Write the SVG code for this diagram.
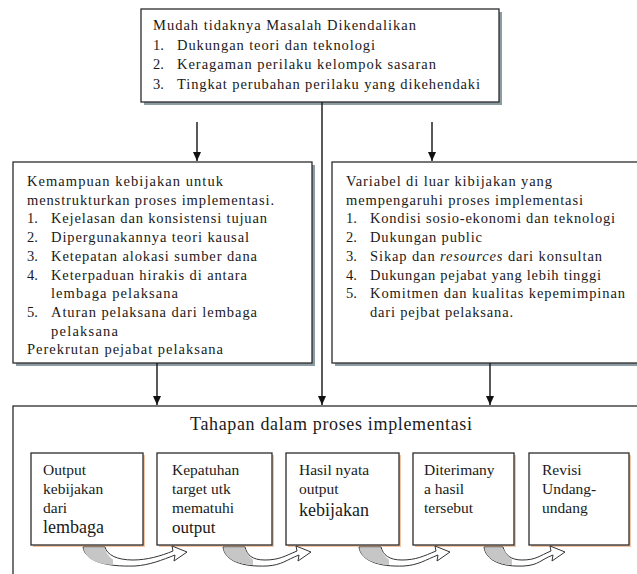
<svg xmlns="http://www.w3.org/2000/svg" width="637" height="574" viewBox="0 0 637 574">
<defs>
<style>
.t{font-family:"Liberation Serif","Times New Roman",serif;font-size:14.5px;fill:#1a1a1a}
.s{font-family:"Liberation Serif","Times New Roman",serif;font-size:15.5px;fill:#1a1a1a}
.box{fill:#fff;stroke:#2b2b2b;stroke-width:1.3}
.shd{fill:#8d9ba3}
.ishd{fill:#f2c7a5}
.ln{stroke:#222;stroke-width:1.5;fill:none}
.ca{fill:#fff;stroke:#333;stroke-width:1}
.cg{fill:#c6c6c6;stroke:none}
</style>
<marker id="ah" markerWidth="10" markerHeight="10" refX="9" refY="5" orient="auto" markerUnits="userSpaceOnUse">
<path d="M0,1 L9,5 L0,9 z" fill="#111"/>
</marker>
</defs>
<rect width="637" height="574" fill="#fff"/>

<g id="node-masalah">
<rect class="shd" x="144" y="12" width="358" height="93"/>
<rect class="box" x="141" y="9" width="358" height="93"/>
<text class="t" x="153" y="30" textLength="263" lengthAdjust="spacing">Mudah tidaknya Masalah Dikendalikan</text>
<text class="t" x="153" y="49.5">1.</text>
<text class="t" x="177" y="49.5" textLength="198" lengthAdjust="spacing">Dukungan teori  dan teknologi</text>
<text class="t" x="153" y="69">2.</text>
<text class="t" x="177" y="69" textLength="259" lengthAdjust="spacing">Keragaman perilaku kelompok sasaran</text>
<text class="t" x="153" y="88.5">3.</text>
<text class="t" x="177" y="88.5" textLength="303" lengthAdjust="spacing">Tingkat perubahan perilaku yang dikehendaki</text>
</g>

<g id="node-kemampuan">
<rect class="shd" x="16" y="165" width="299" height="201"/>
<rect class="box" x="13" y="162" width="299" height="201"/>
<text class="t" x="27" y="186" textLength="196" lengthAdjust="spacing">Kemampuan kebijakan untuk</text>
<text class="t" x="27" y="204.7" textLength="247" lengthAdjust="spacing">menstrukturkan proses implementasi.</text>
<text class="t" x="27" y="223.4">1.</text>
<text class="t" x="51" y="223.4" textLength="216" lengthAdjust="spacing">Kejelasan dan konsistensi tujuan</text>
<text class="t" x="27" y="242.1">2.</text>
<text class="t" x="51" y="242.1" textLength="198" lengthAdjust="spacing">Dipergunakannya teori kausal</text>
<text class="t" x="27" y="260.8">3.</text>
<text class="t" x="51" y="260.8" textLength="206" lengthAdjust="spacing">Ketepatan alokasi sumber dana</text>
<text class="t" x="27" y="279.5">4.</text>
<text class="t" x="51" y="279.5" textLength="196" lengthAdjust="spacing">Keterpaduan hirakis di antara</text>
<text class="t" x="51" y="298.2" textLength="127" lengthAdjust="spacing">lembaga pelaksana</text>
<text class="t" x="27" y="316.9">5.</text>
<text class="t" x="51" y="316.9" textLength="206" lengthAdjust="spacing">Aturan pelaksana dari lembaga</text>
<text class="t" x="51" y="335.6" textLength="67" lengthAdjust="spacing">pelaksana</text>
<text class="t" x="27" y="354.3" textLength="196" lengthAdjust="spacing">Perekrutan pejabat pelaksana</text>
</g>

<g id="node-variabel">
<rect class="shd" x="335" y="165" width="310" height="201"/>
<rect class="box" x="332" y="162" width="310" height="201"/>
<text class="t" x="346" y="186" textLength="206" lengthAdjust="spacing">Variabel di luar kibijakan yang</text>
<text class="t" x="346" y="204.7" textLength="237" lengthAdjust="spacing">mempengaruhi proses implementasi</text>
<text class="t" x="346" y="223.4">1.</text>
<text class="t" x="370" y="223.4" textLength="245" lengthAdjust="spacing">Kondisi sosio-ekonomi dan teknologi</text>
<text class="t" x="346" y="242.1">2.</text>
<text class="t" x="370" y="242.1" textLength="112" lengthAdjust="spacing">Dukungan public</text>
<text class="t" x="346" y="260.8">3.</text>
<text class="t" x="370" y="260.8" textLength="232" lengthAdjust="spacing">Sikap dan <tspan font-style="italic">resources</tspan> dari konsultan</text>
<text class="t" x="346" y="279.5">4.</text>
<text class="t" x="370" y="279.5" textLength="231" lengthAdjust="spacing">Dukungan pejabat yang lebih tinggi</text>
<text class="t" x="346" y="298.2">5.</text>
<text class="t" x="370" y="298.2" textLength="255" lengthAdjust="spacing">Komitmen dan kualitas kepemimpinan</text>
<text class="t" x="370" y="316.9" textLength="143" lengthAdjust="spacing">dari pejbat pelaksana.</text>
</g>

<g id="node-tahapan">
<rect class="box" x="13" y="406" width="640" height="190"/>
<text class="t" x="190" y="430" style="font-size:18px" textLength="282" lengthAdjust="spacing">Tahapan dalam proses implementasi</text>
</g>

<g id="node-output">
<rect class="ishd" x="33" y="455" width="112" height="92"/>
<rect class="box" x="31" y="453" width="112" height="92"/>
<text class="s" x="43" y="475">Output</text>
<text class="s" x="43" y="494">kebijakan</text>
<text class="s" x="43" y="513">dari</text>
<text class="s" x="43" y="533" style="font-size:18px">lembaga</text>
</g>

<g id="node-kepatuhan">
<rect class="ishd" x="159" y="455" width="115" height="92"/>
<rect class="box" x="157" y="453" width="115" height="92"/>
<text class="s" x="172" y="475">Kepatuhan</text>
<text class="s" x="172" y="494">target utk</text>
<text class="s" x="172" y="513">mematuhi</text>
<text class="s" x="172" y="533" style="font-size:17px">output</text>
</g>

<g id="node-hasil">
<rect class="ishd" x="288" y="455" width="113" height="92"/>
<rect class="box" x="286" y="453" width="113" height="92"/>
<text class="s" x="299" y="475">Hasil nyata</text>
<text class="s" x="299" y="494">output</text>
<text class="s" x="299" y="516" style="font-size:18px">kebijakan</text>
</g>

<g id="node-diterima">
<rect class="ishd" x="415" y="455" width="101" height="92"/>
<rect class="box" x="413" y="453" width="101" height="92"/>
<text class="s" x="424" y="475">Diterimany</text>
<text class="s" x="424" y="494">a hasil</text>
<text class="s" x="424" y="513">tersebut</text>
</g>

<g id="node-revisi">
<rect class="ishd" x="531" y="455" width="100" height="92"/>
<rect class="box" x="529" y="453" width="100" height="92"/>
<text class="s" x="542" y="475">Revisi</text>
<text class="s" x="542" y="494">Undang-</text>
<text class="s" x="542" y="513">undang</text>
</g>

<g id="connectors">
<line class="ln" x1="197" y1="122" x2="197" y2="161" marker-end="url(#ah)"/>
<line class="ln" x1="432" y1="122" x2="432" y2="161" marker-end="url(#ah)"/>
<line class="ln" x1="322" y1="102" x2="322" y2="405" marker-end="url(#ah)"/>
<line class="ln" x1="157" y1="363" x2="157" y2="405" marker-end="url(#ah)"/>
<line class="ln" x1="490" y1="363" x2="490" y2="405" marker-end="url(#ah)"/>

<path class="ca" d="M83,547 C85,561 106,567 135,566 C150,565 162,560 175,555 L174,561 L187,552 L172,546 L173,551 C161,556 147,560 133,560 C117,560 107,555 105,547 Z"/>
<path class="cg" d="M83.5,547.5 C85,559 97,564 113,565 L113,559.5 C108,556 106,552 104.5,547.5 Z"/>

<path class="ca" d="M223,547 C225,561 242,567 267,566 C282,565 286,560 299,555 L298,561 L311,552 L296,546 L297,551 C285,556 279,560 265,560 C252,560 247,555 245,547 Z"/>
<path class="cg" d="M223.5,547.5 C225,559 237,564 253,565 L253,559.5 C248,556 246,552 244.5,547.5 Z"/>

<path class="ca" d="M359,547 C361,561 379,567 404,566 C419,565 425,560 438,555 L437,561 L450,552 L435,546 L436,551 C424,556 416,560 402,560 C389,560 383,555 381,547 Z"/>
<path class="cg" d="M359.5,547.5 C361,559 373,564 389,565 L389,559.5 C384,556 382,552 380.5,547.5 Z"/>

<path class="ca" d="M484,547 C486,561 502,567 524,566 C539,565 540,560 553,555 L552,561 L565,552 L550,546 L551,551 C539,556 536,560 522,560 C511,560 505,555 503,547 Z"/>
<path class="cg" d="M484.5,547.5 C486,559 497,564 512,565 L512,559.5 C507,556 505,552 502.5,547.5 Z"/>
</g>
</svg>
